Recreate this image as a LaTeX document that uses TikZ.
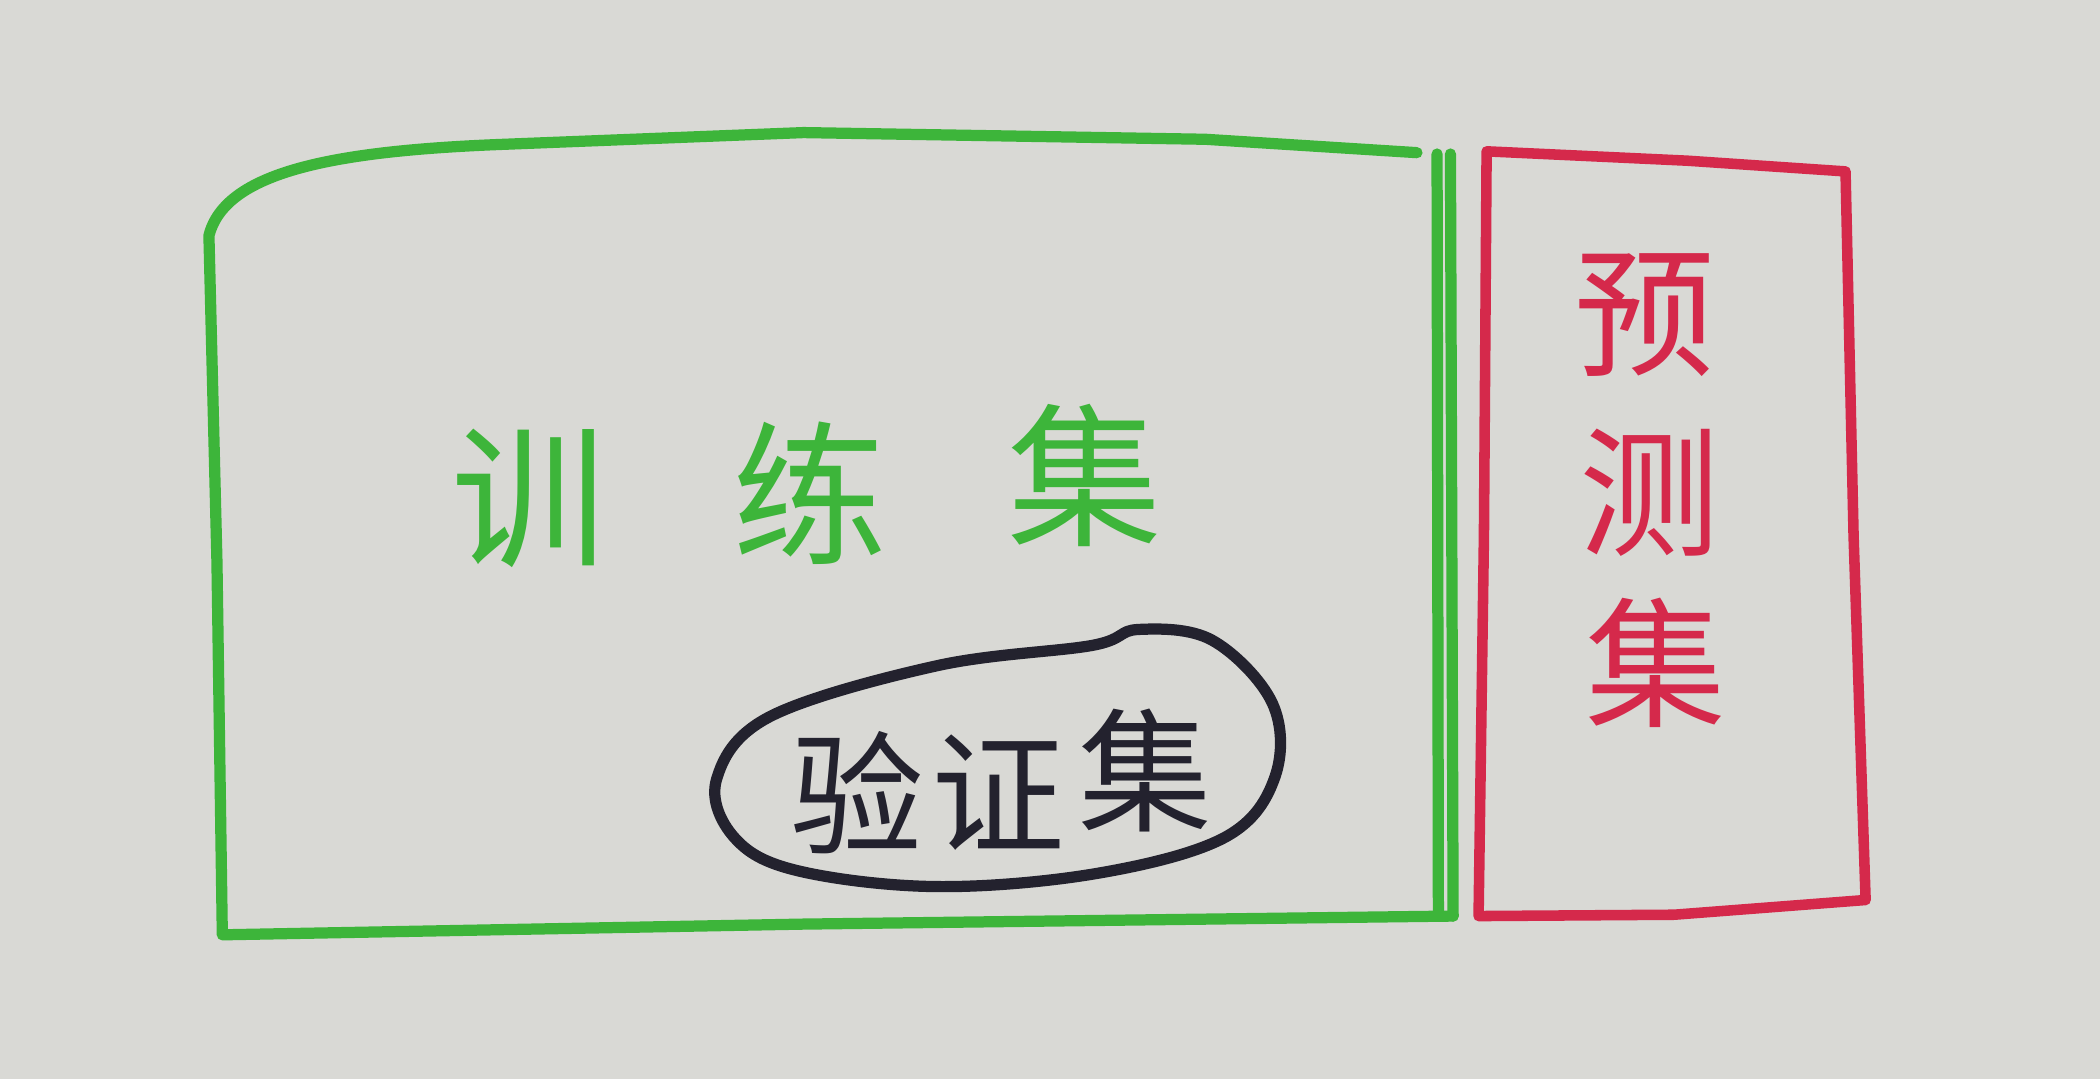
\documentclass[tikz,border=0pt]{standalone}
\usepackage{fontspec}
\usepackage{xcolor}
\usepackage{tikz}
\newfontfamily\cjk{Noto Sans CJK SC}
\definecolor{paper}{HTML}{D9D9D5}
\definecolor{pen}{HTML}{3DB53A}
\definecolor{redpen}{HTML}{D5294B}
\definecolor{ink}{HTML}{23222E}
\tikzset{
  greenline/.style={draw=pen, line width=3.2pt, line cap=round, line join=round},
  redline/.style={draw=redpen, line width=3pt, line cap=round, line join=round},
  inkline/.style={draw=ink, line width=3.2pt, line cap=round, line join=round},
  trainlab/.style={text=pen, font=\cjk\fontsize{44}{48}\selectfont, inner sep=0pt},
  testlab/.style={text=redpen, font=\cjk\fontsize{40}{44}\selectfont, inner sep=0pt},
  vallab/.style={text=ink, font=\cjk\fontsize{38}{42}\selectfont, inner sep=0pt},
}
\begin{document}
\begin{tikzpicture}[x=0.01339cm, y=-0.01339cm]
  \fill[paper] (0,0) rectangle (1568,806);
  \useasboundingbox (0,0) rectangle (1568,806);
  % training set, rounded top left corner
  \draw[greenline] (1058,114) -- (900,104) -- (600,99) -- (370,108)
    .. controls (250,113) and (168,128) .. (156,176)
    -- (162,420) -- (166,698) -- (600,690) -- (1085,684);
  \draw[greenline] (1073,115) -- (1074,684);
  \draw[greenline] (1083,115) -- (1085,684);
  % test set
  \draw[redline] (1110,113) -- (1260,120) -- (1378,128) -- (1384,400)
    -- (1393,672) -- (1250,683) -- (1104,684) -- (1108,400) -- cycle;
  % validation set blob
  \draw[inkline] plot[smooth cycle, tension=0.6] coordinates {
    (535,582) (575,535) (700,497) (815,482) (850,470) (905,478)
    (950,525) (952,580) (915,625) (820,652) (700,662) (595,650) (548,625)};
  \node[trainlab] (train1) at (395,372) {训};
  \node[trainlab] (train2) at (605,368) {练};
  \node[trainlab] (train3) at (810,355) {集};
  \node[testlab] (test1) at (1228,235) {预};
  \node[testlab] (test2) at (1232,368) {测};
  \node[testlab] (test3) at (1236,495) {集};
  \node[vallab] (val1) at (640,592) {验};
  \node[vallab] (val2) at (745,592) {证};
  \node[vallab] (val3) at (855,575) {集};
\end{tikzpicture}
\end{document}
